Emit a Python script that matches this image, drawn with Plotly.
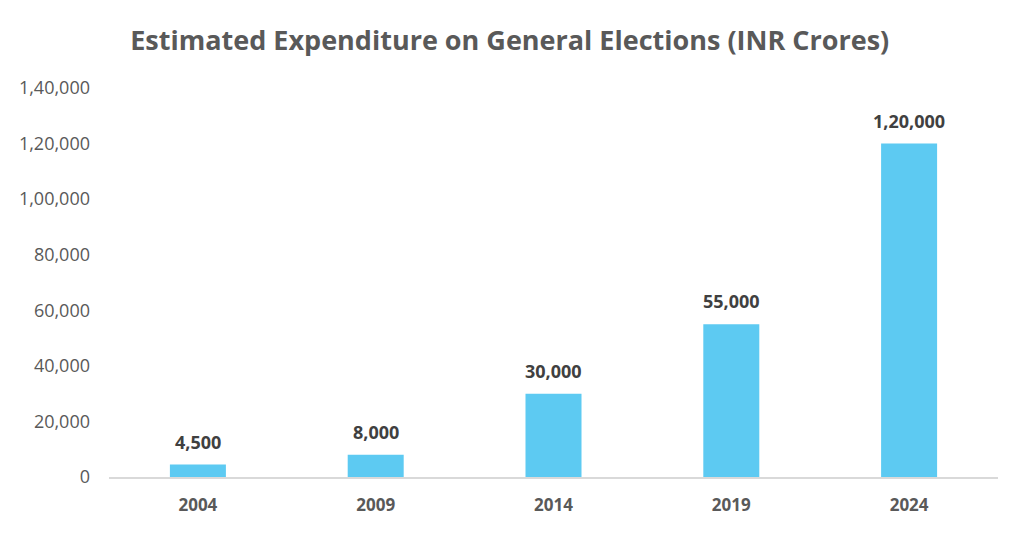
import plotly.graph_objects as go

years = ["2004", "2009", "2014", "2019", "2024"]
expenditure = [4500, 8000, 30000, 55000, 120000]
bar_labels = ["4,500", "8,000", "30,000", "55,000", "1,20,000"]
y_tick_vals = [0, 20000, 40000, 60000, 80000, 100000, 120000, 140000]
y_tick_text = ["0", "20,000", "40,000", "60,000", "80,000", "1,00,000", "1,20,000", "1,40,000"]

fig = go.Figure(go.Bar(
    x=years, y=expenditure,
    marker=dict(color="#5DCAF2", line=dict(width=0)),
))

# value labels, placed at each category's index on the category axis
for i, (val, lab) in enumerate(zip(expenditure, bar_labels)):
    fig.add_annotation(
        x=i, y=val, text=f"<b>{lab}</b>", showarrow=False,
        xanchor="center", yanchor="bottom", yshift=9,
        font=dict(family="Open Sans", size=18, color="#404040"),
    )

fig.update_layout(
    width=1024, height=533,
    margin=dict(l=101, r=34, t=80, b=64),
    plot_bgcolor="white", paper_bgcolor="white",
    bargap=0.685,
    showlegend=False,
    title=dict(text="<b>Estimated Expenditure on General Elections (INR Crores)</b>",
               x=0.49, xanchor="center", y=0.938, yanchor="middle",
               font=dict(family="Open Sans", size=27, color="#595959")),
    font=dict(family="Open Sans", color="#595959"),
)
fig.update_xaxes(
    type="category", range=[-0.5, len(years) - 0.5],
    showline=True, linecolor="#D9D9D9", linewidth=1.5,
    tickfont=dict(size=17, color="#595959", weight="bold"),
    ticks="", ticklabelstandoff=12,
)
fig.update_yaxes(
    range=[0, 140000], tickvals=y_tick_vals, ticktext=y_tick_text,
    showgrid=False, zeroline=False, showline=False,
    tickfont=dict(size=18, color="#595959"),
    ticks="", ticklabelstandoff=18,
)

fig.write_html("out.html")
